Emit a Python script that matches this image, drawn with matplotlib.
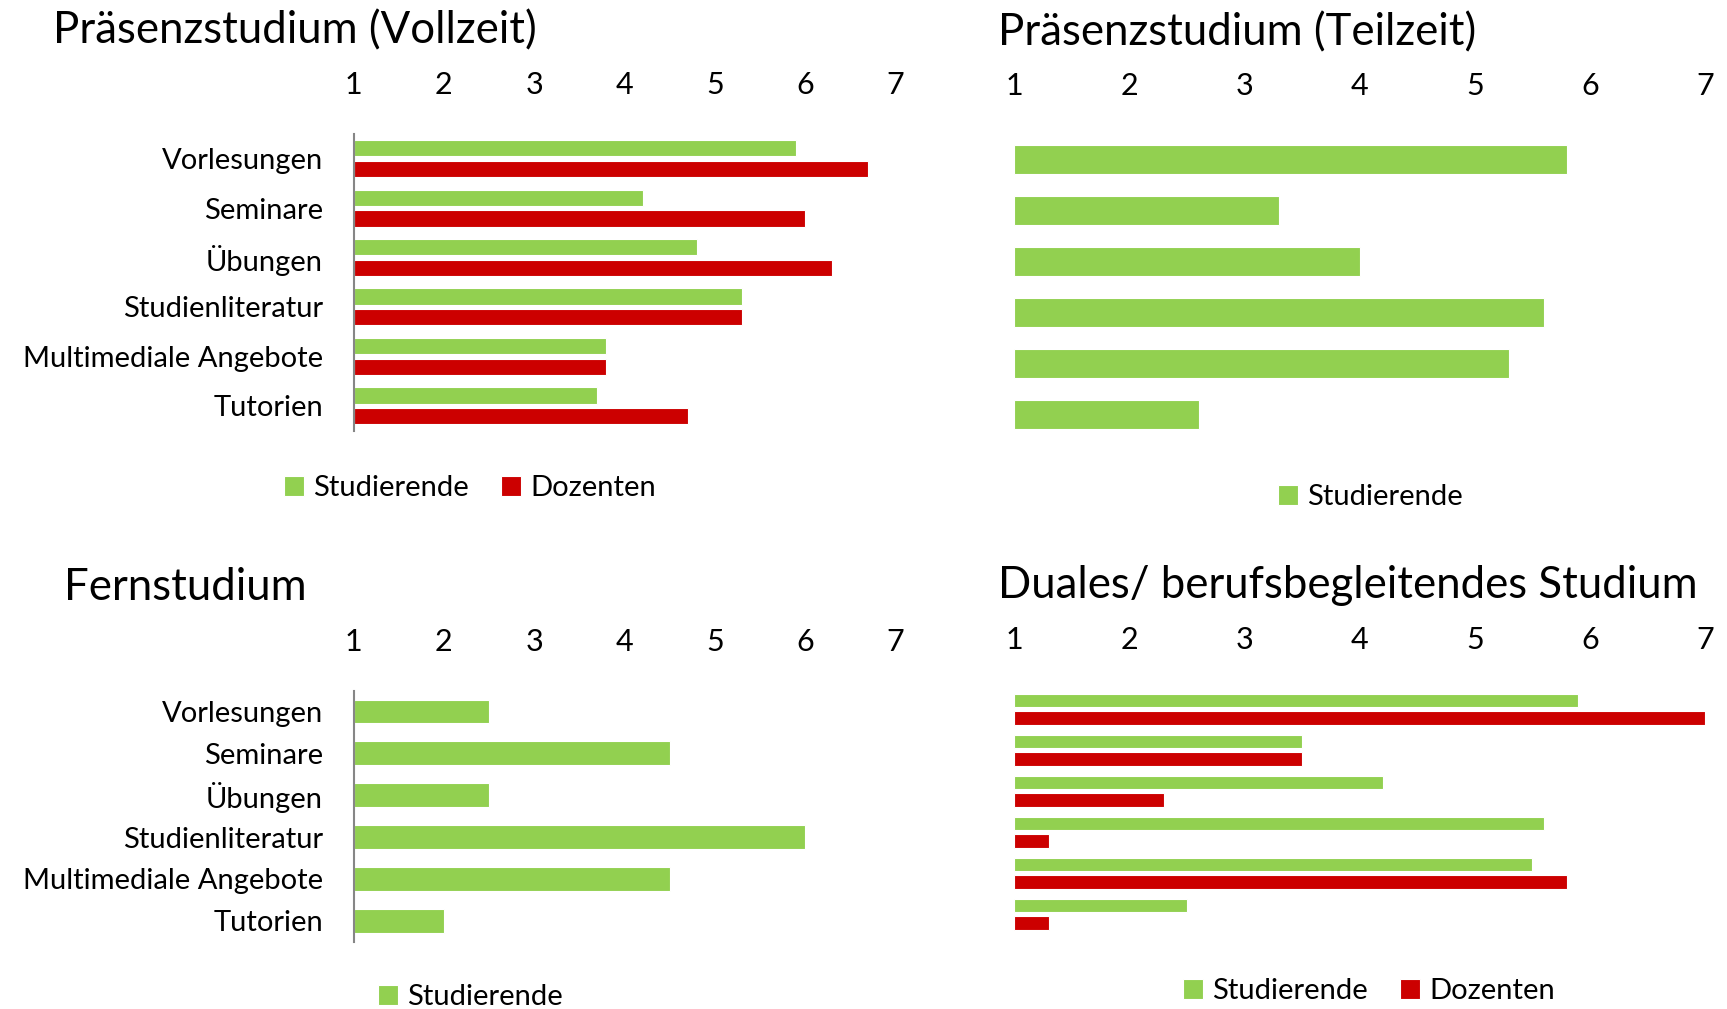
import matplotlib.pyplot as plt
import numpy as np

plt.rcParams['font.family'] = ['Lato', 'DejaVu Sans']

# ── DATA ─────────────────────────────────────────────────────
categories = ['Vorlesungen', 'Seminare', 'Übungen', 'Studienliteratur',
              'Multimediale Angebote', 'Tutorien']
ticks = [1, 2, 3, 4, 5, 6, 7]

vz_stud = [5.9, 4.2, 4.8, 5.3, 3.8, 3.7]
vz_doz = [6.7, 6.0, 6.3, 5.3, 3.8, 4.7]
tz_stud = [5.8, 3.3, 4.0, 5.6, 5.3, 2.6]
fern_stud = [2.5, 4.5, 2.5, 6.0, 4.5, 2.0]
dual_stud = [5.9, 3.5, 4.2, 5.6, 5.5, 2.5]
dual_doz = [7.0, 3.5, 2.3, 1.3, 5.8, 1.3]

# ── STYLE ────────────────────────────────────────────────────
GREEN = '#92D050'
RED = '#CC0000'
AXIS_C = '#868686'
W, H = 1727, 1009


def rect(x0, x1, ytop, ybot):
    return [x0 / W, 1 - ybot / H, (x1 - x0) / W, (ybot - ytop) / H]


fig = plt.figure(figsize=(W / 100, H / 100), dpi=100)


def panel(r, title, title_xy, series, labels, leg_xy, bar_h, offs):
    ax = fig.add_axes(r)
    y = np.arange(len(categories))
    handles = []
    for (vals, col, name), off in zip(series, offs):
        h = ax.barh(y + off, np.array(vals) - 1, left=1, height=bar_h,
                    color=col, edgecolor='white', linewidth=0.8, label=name)
        handles.append(h)
    ax.set_xlim(1, 7)
    ax.set_ylim(len(categories) - 0.5, -0.5)
    ax.xaxis.tick_top()
    ax.set_xticks(ticks)
    ax.tick_params(axis='x', length=0, pad=25, labelsize=22)
    ax.tick_params(axis='y', length=0, pad=22, labelsize=21)
    ax.set_yticks(y)
    if labels:
        ax.set_yticklabels(categories)
        ax.spines['left'].set_color(AXIS_C)
        ax.spines['left'].set_linewidth(1.5)
    else:
        ax.set_yticklabels([])
        ax.spines['left'].set_visible(False)
    for s in ['top', 'right', 'bottom']:
        ax.spines[s].set_visible(False)
    fig.text(title_xy[0] / W, 1 - title_xy[1] / H, title, fontsize=31.5,
             ha='left', va='center')
    fig.legend(handles=handles, loc='center',
               bbox_to_anchor=(leg_xy[0] / W, 1 - leg_xy[1] / H),
               ncol=len(handles), frameon=False, fontsize=21,
               handlelength=0.7, handleheight=0.7, handletextpad=0.3,
               columnspacing=1.1)
    return ax


panel(rect(353.5, 895.4, 134.0, 430.5), 'Präsenzstudium (Vollzeit)', (53, 31),
      [(vz_stud, GREEN, 'Studierende'), (vz_doz, RED, 'Dozenten')],
      True, (470, 488), 0.33, [-0.21, 0.21])

panel(rect(1014.4, 1705, 134.4, 439.5), 'Präsenzstudium (Teilzeit)', (998, 33),
      [(tz_stud, GREEN, 'Studierende')],
      False, (1370, 497), 0.57, [0])

panel(rect(353.5, 895.4, 690.6, 941.7), 'Fernstudium', (64, 587),
      [(fern_stud, GREEN, 'Studierende')],
      True, (470, 997), 0.57, [0])

panel(rect(1014.4, 1705, 688.8, 934.7), 'Duales/ berufsbegleitendes Studium', (998, 585),
      [(dual_stud, GREEN, 'Studierende'), (dual_doz, RED, 'Dozenten')],
      False, (1369, 991), 0.33, [-0.21, 0.21])

plt.savefig('out.png', dpi=100, facecolor='white')
plt.close()
